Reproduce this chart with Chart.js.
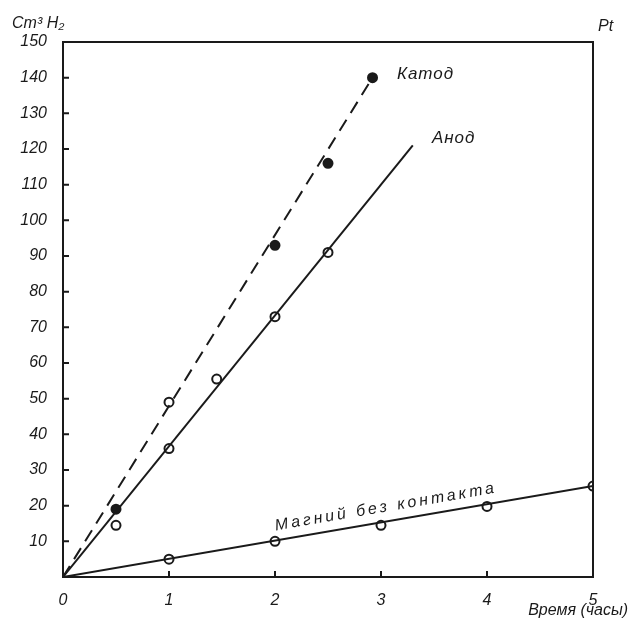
<!DOCTYPE html>
<html>
<head>
<meta charset="utf-8">
<script src="https://cdn.jsdelivr.net/npm/chart.js@4.4.0/dist/chart.umd.min.js"></script>
<style>
  html, body { margin: 0; padding: 0; background: #fff; }
  #wrap { width: 630px; height: 619px; }
</style>
</head>
<body>
<div id="wrap"><canvas id="chart"></canvas></div>
<script>
// measured points
var katodTime = [0.5, 1, 2, 2.5, 2.92];
var katodVol = [19, 49, 93, 116, 140];
var anodTime = [0.5, 1, 1.45, 2, 2.5];
var anodVol = [14.5, 36, 55.5, 73, 91];
var mgTime = [1, 2, 3, 4, 5];
var mgVol = [5, 10, 14.5, 19.8, 25.5];

// fitted lines (start, end)
var katodFitTime = [0, 2.92];
var katodFitVol = [0, 140];
var anodFitTime = [0, 3.3];
var anodFitVol = [0, 121];
var mgFitTime = [0, 5];
var mgFitVol = [0, 25.5];

var xTicks = [0, 1, 2, 3, 4, 5];
var yTicks = [10, 20, 30, 40, 50, 60, 70, 80, 90, 100, 110, 120, 130, 140, 150];

var ink = '#1a1a1a';
var family = '"Liberation Sans", "DejaVu Sans", sans-serif';

function pts(xs, ys) {
  return xs.map(function (x, i) { return { x: x, y: ys[i] } })
}

var katodFill = katodTime.map(function (t) { return t === 1 ? '#fff' : ink })

// frame, inward ticks and handwritten labels
var decor = {
  id: 'decor',
  afterDraw: function (chart) {
    var c = chart.ctx
    var a = chart.chartArea
    var xs = chart.scales.x
    var ys = chart.scales.y
    c.save()
    c.strokeStyle = ink
    c.lineWidth = 2
    c.strokeRect(a.left, a.top, a.right - a.left, a.bottom - a.top)

    c.beginPath()
    yTicks.forEach(function (v) {
      var py = ys.getPixelForValue(v)
      c.moveTo(a.left, py)
      c.lineTo(a.left + 6, py)
    })
    xTicks.forEach(function (v) {
      var px = xs.getPixelForValue(v)
      c.moveTo(px, a.bottom)
      c.lineTo(px, a.bottom - 6)
    })
    c.stroke()

    c.fillStyle = ink
    c.font = 'italic 17px ' + family
    c.textBaseline = 'middle'
    c.textAlign = 'left'
    c.letterSpacing = '1px'
    c.fillText('Катод', xs.getPixelForValue(3.15), ys.getPixelForValue(141))
    c.fillText('Анод', xs.getPixelForValue(3.48), ys.getPixelForValue(123))

    // label along the magnesium line
    var x0 = xs.getPixelForValue(mgFitTime[0]), y0 = ys.getPixelForValue(mgFitVol[0])
    var x1 = xs.getPixelForValue(mgFitTime[1]), y1 = ys.getPixelForValue(mgFitVol[1])
    var ang = Math.atan2(y1 - y0, x1 - x0)
    c.save()
    c.translate(xs.getPixelForValue(2.0), ys.getPixelForValue(14.3))
    c.rotate(ang)
    c.letterSpacing = '3px'
    c.font = 'italic 16px ' + family
    c.fillText('Магний без контакта', 0, 0)
    c.restore()

    c.textBaseline = 'alphabetic'
    c.font = 'italic 16px ' + family
    c.letterSpacing = '0px'
    c.fillText('Cm³ H₂', 12, 28)
    c.fillText('Pt', 598, 31)
    c.textAlign = 'right'
    c.fillText('Время (часы)', 628, 615)
    c.restore()
  }
}

var ctx = document.getElementById('chart').getContext('2d')
var chart = new Chart(ctx, {
  type: 'scatter',
  data: {
    datasets: [
      {
        label: 'Катод (линия)',
        data: pts(katodFitTime, katodFitVol),
        showLine: true,
        borderColor: ink,
        borderWidth: 2,
        borderDash: [13, 8],
        pointRadius: 0
      },
      {
        label: 'Анод (линия)',
        data: pts(anodFitTime, anodFitVol),
        showLine: true,
        borderColor: ink,
        borderWidth: 2,
        pointRadius: 0
      },
      {
        label: 'Магний (линия)',
        data: pts(mgFitTime, mgFitVol),
        showLine: true,
        borderColor: ink,
        borderWidth: 2,
        pointRadius: 0
      },
      {
        label: 'Катод',
        data: pts(katodTime, katodVol),
        pointRadius: 4.5,
        pointBorderWidth: 2,
        pointBorderColor: ink,
        pointBackgroundColor: katodFill
      },
      {
        label: 'Анод',
        data: pts(anodTime, anodVol),
        pointRadius: 4.5,
        pointBorderWidth: 2,
        pointBorderColor: ink,
        pointBackgroundColor: '#fff'
      },
      {
        label: 'Магний без контакта',
        data: pts(mgTime, mgVol),
        pointRadius: 4.5,
        pointBorderWidth: 2,
        pointBorderColor: ink,
        pointBackgroundColor: '#fff'
      }
    ]
  },
  options: {
    responsive: true,
    maintainAspectRatio: false,
    animation: false,
    layout: { padding: { top: 42, right: 37, left: 0, bottom: 0 } },
    plugins: {
      legend: { display: false },
      tooltip: { enabled: false }
    },
    scales: {
      x: {
        type: 'linear',
        min: 0,
        max: 5,
        afterFit: function (s) { s.height = 42 },
        afterBuildTicks: function (s) { s.ticks = xTicks.map(function (v) { return { value: v } }) },
        grid: { display: false },
        border: { display: false },
        ticks: {
          color: ink,
          padding: 6,
          font: { family: family, size: 16, style: 'italic' }
        }
      },
      y: {
        type: 'linear',
        min: 0,
        max: 150,
        afterFit: function (s) { s.width = 63 },
        afterBuildTicks: function (s) { s.ticks = yTicks.map(function (v) { return { value: v } }) },
        grid: { display: false },
        border: { display: false },
        ticks: {
          color: ink,
          padding: 8,
          font: { family: family, size: 16, style: 'italic' }
        }
      }
    }
  },
  plugins: [decor]
})
</script>
</body>
</html>
